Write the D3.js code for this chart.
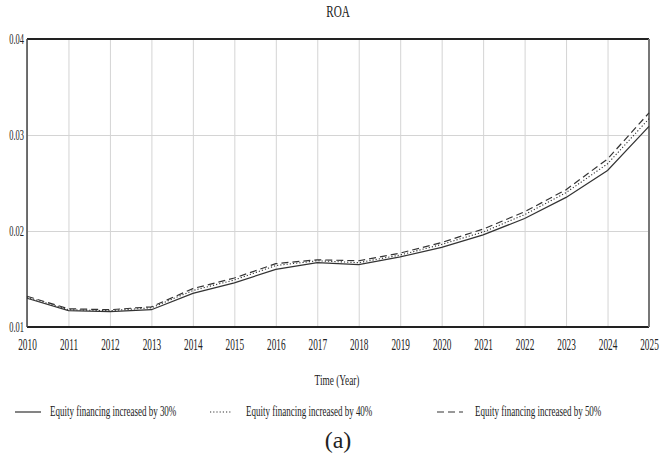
<!DOCTYPE html>
<html lang="en">
<head>
  <meta charset="utf-8">
  <title>ROA</title>
  <script src="https://cdn.jsdelivr.net/npm/d3@7"></script>
  <style>
    body { margin: 0; background: #fff; }
    text { font-family: "Liberation Serif", "Times New Roman", serif; fill: #222; }
  </style>
</head>
<body>
<script>
  var years = [2010, 2011, 2012, 2013, 2014, 2015, 2016, 2017, 2018, 2019, 2020, 2021, 2022, 2023, 2024, 2025];
  var yTicks = [0.01, 0.02, 0.03, 0.04];
  var seriesNames = ["Equity financing increased by 30%", "Equity financing increased by 40%", "Equity financing increased by 50%"];
  var roa30 = [0.0130, 0.0117, 0.0116, 0.0118, 0.0135, 0.0146, 0.0160, 0.0167, 0.0165, 0.0173, 0.0183, 0.0196, 0.0213, 0.0235, 0.0263, 0.0309];
  var roa40 = [0.0131, 0.0118, 0.0117, 0.0120, 0.0138, 0.0149, 0.0164, 0.0169, 0.0167, 0.0175, 0.0186, 0.0199, 0.0217, 0.0240, 0.0270, 0.0317];
  var roa50 = [0.0132, 0.0119, 0.0118, 0.0121, 0.0140, 0.0151, 0.0166, 0.0170, 0.0169, 0.0177, 0.0188, 0.0202, 0.0220, 0.0243, 0.0275, 0.0323];

  var w = 660, h = 466;
  // plot box (don't call it "top", window.top is read only)
  var pLeft = 27, pRight = 649, pTop = 39, pBottom = 327;

  var svg = d3.select("body").append("svg")
    .attr("width", w)
    .attr("height", h);

  var x = d3.scaleLinear().domain([2010, 2025]).range([pLeft, pRight]);
  var y = d3.scaleLinear().domain([0.01, 0.04]).range([pBottom, pTop]);

  // grid
  svg.append("g")
    .attr("transform", "translate(0," + pBottom + ")")
    .call(d3.axisBottom(x).tickValues(years).tickSize(-(pBottom - pTop)).tickFormat(""))
    .call(function(g){
      g.select(".domain").remove();
      g.selectAll("line").attr("stroke", "#d4d4d4").attr("stroke-width", 1);
    });
  svg.append("g")
    .attr("transform", "translate(" + pLeft + ",0)")
    .call(d3.axisLeft(y).tickValues([0.02, 0.03]).tickSize(-(pRight - pLeft)).tickFormat(""))
    .call(function(g){
      g.select(".domain").remove();
      g.selectAll("line").attr("stroke", "#d4d4d4").attr("stroke-width", 1);
    });

  // x tick labels
  svg.append("g")
    .attr("transform", "translate(0," + pBottom + ")")
    .call(d3.axisBottom(x).tickValues(years).tickSize(0).tickFormat(d3.format("d")))
    .call(function(g){
      g.select(".domain").remove();
      g.selectAll("text")
        .attr("y", 0).attr("dy", null)
        .attr("transform", "translate(0,23) scale(0.58,1)")
        .style("font-size", "16px")
        .style("font-family", "'Liberation Serif', serif")
        .attr("fill", "#2a2a2a");
    });

  // y tick labels
  svg.append("g")
    .attr("transform", "translate(" + pLeft + ",0)")
    .call(d3.axisLeft(y).tickValues(yTicks).tickSize(0).tickFormat(d3.format(".2f")))
    .call(function(g){
      g.select(".domain").remove();
      g.selectAll("text")
        .attr("x", 0).attr("dy", null)
        .attr("transform", "translate(-3,4.5) scale(0.6,1)")
        .style("font-size", "14px")
        .style("font-family", "'Liberation Serif', serif")
        .attr("fill", "#2a2a2a");
    });

  // frame
  svg.append("line").attr("x1", pLeft).attr("x2", pRight).attr("y1", pTop).attr("y2", pTop)
    .attr("stroke", "#222").attr("stroke-width", 2);
  svg.append("line").attr("x1", pLeft).attr("x2", pRight).attr("y1", pBottom).attr("y2", pBottom)
    .attr("stroke", "#222").attr("stroke-width", 2);
  svg.append("line").attr("x1", pLeft).attr("x2", pLeft).attr("y1", pTop).attr("y2", pBottom)
    .attr("stroke", "#444").attr("stroke-width", 1.5);
  svg.append("line").attr("x1", pRight).attr("x2", pRight).attr("y1", pTop).attr("y2", pBottom)
    .attr("stroke", "#777").attr("stroke-width", 2);

  var dashes = [null, "1.2,2", "7,4"];
  var allSeries = [roa30, roa40, roa50];

  var line = d3.line()
    .x(function(d, i){ return x(years[i]); })
    .y(function(d){ return y(d); });

  allSeries.forEach(function(s, k){
    svg.append("path")
      .datum(s)
      .attr("d", line)
      .attr("fill", "none")
      .attr("stroke", "#333")
      .attr("stroke-width", k == 1 ? 1.1 : 1.2)
      .attr("stroke-dasharray", dashes[k]);
  });

  function condensed(tx, ty, str, size, sx, anchor){
    return svg.append("text")
      .attr("transform", "translate(" + tx + "," + ty + ") scale(" + sx + ",1)")
      .attr("text-anchor", anchor || "middle")
      .style("font-size", size + "px")
      .text(str);
  }

  condensed(338, 17, "ROA", 16, 0.7);
  condensed(337, 385, "Time (Year)", 15, 0.62);

  // legend
  var legX = [15, 210, 437];
  var legTextX = [50, 246, 475];
  var legY = 412;
  seriesNames.forEach(function(name, k){
    svg.append("line")
      .attr("x1", legX[k]).attr("x2", legX[k] + (k == 1 ? 22 : 26))
      .attr("y1", legY).attr("y2", legY)
      .attr("stroke", "#333")
      .attr("stroke-width", 1.2)
      .attr("stroke-dasharray", dashes[k]);
    condensed(legTextX[k], legY + 4, name, 15, 0.6, "start");
  });

  svg.append("text")
    .attr("x", 338).attr("y", 448)
    .attr("text-anchor", "middle")
    .style("font-size", "24px")
    .text("(a)");
</script>
</body>
</html>
